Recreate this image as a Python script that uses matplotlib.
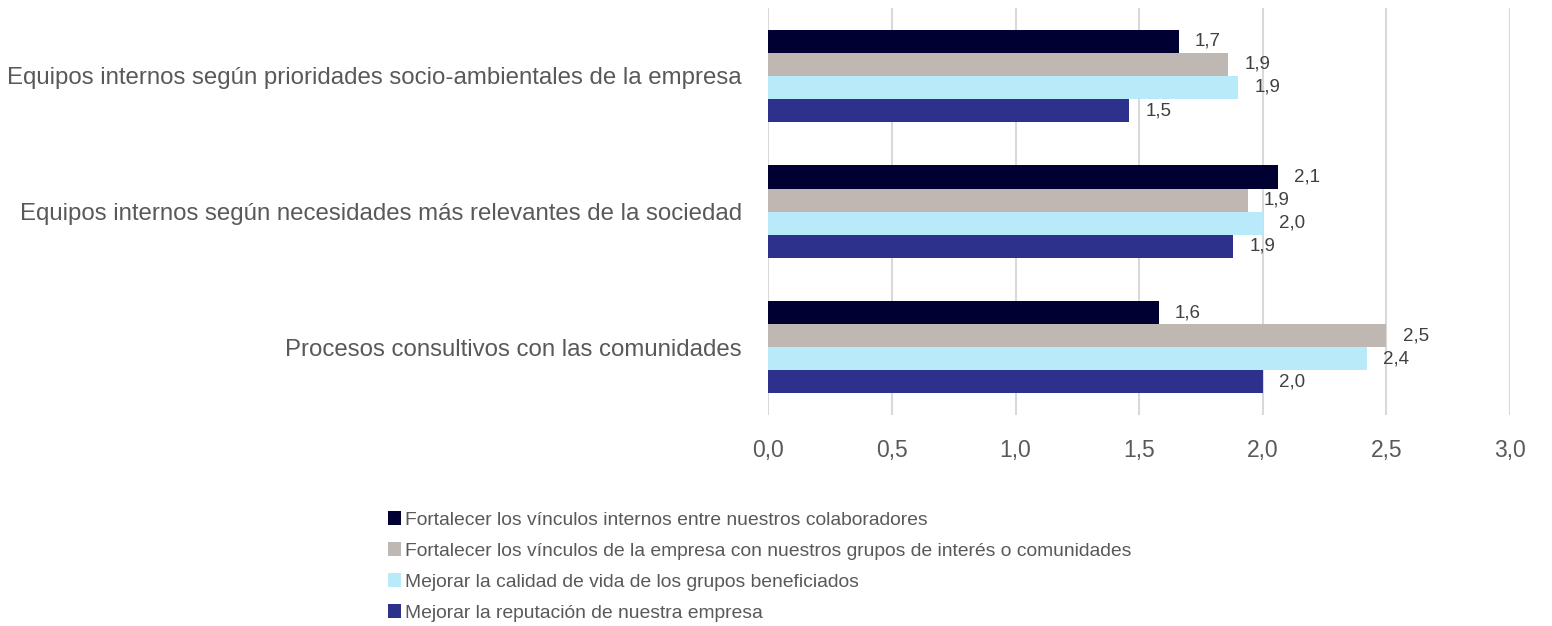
import numpy as np
import matplotlib.pyplot as plt
from matplotlib.patches import Patch

plt.rcParams['font.family'] = ['Liberation Sans', 'DejaVu Sans']

categories = [
    "Equipos internos según prioridades socio-ambientales de la empresa",
    "Equipos internos según necesidades más relevantes de la sociedad",
    "Procesos consultivos con las comunidades",
]
series_names = [
    "Fortalecer los vínculos internos entre nuestros colaboradores",
    "Fortalecer los vínculos de la empresa con nuestros grupos de interés o comunidades",
    "Mejorar la calidad de vida de los grupos beneficiados",
    "Mejorar la reputación de nuestra empresa",
]
vinculos_internos = [1.66, 2.06, 1.58]
vinculos_empresa = [1.86, 1.94, 2.50]
calidad_vida = [1.90, 2.00, 2.42]
reputacion = [1.46, 1.88, 2.00]
series = [vinculos_internos, vinculos_empresa, calidad_vida, reputacion]
colors = ["#000033", "#BFB8B2", "#B8EAFA", "#2E318C"]
xticks = [0.0, 0.5, 1.0, 1.5, 2.0, 2.5, 3.0]

fig = plt.figure(figsize=(15.52, 6.26), dpi=100)
ax = fig.add_axes([0.495, 0.337, 0.478, 0.650])

h = 0.17
y = np.arange(len(categories))
for i, (vals, c) in enumerate(zip(series, colors)):
    pos = y - 1.5 * h + i * h
    ax.barh(pos, vals, height=h, color=c, zorder=3)
    for p, v in zip(pos, vals):
        ax.text(v + 0.065, p, f"{v:.1f}".replace(".", ","), va="center", ha="left",
                fontsize=13.5, color="#404040", zorder=4)

ax.set_ylim(2.5, -0.5)
ax.set_xlim(0, 3.0)
ax.set_yticks(y)
ax.set_yticklabels(categories, fontsize=17.3, color="#595959")
ax.set_xticks(xticks)
ax.set_xticklabels([f"{t:.1f}".replace(".", ",") for t in xticks], fontsize=16.5, color="#595959")
ax.tick_params(axis="both", length=0)
ax.tick_params(axis="y", pad=19)
ax.tick_params(axis="x", pad=17)
ax.grid(axis="x", color="#D9D9D9", linewidth=1.5, zorder=0)
for s in ax.spines.values():
    s.set_visible(False)

handles = [Patch(facecolor=c, label=n) for c, n in zip(colors, series_names)]
fig.legend(handles=handles, loc="upper left", bbox_to_anchor=(0.245, 0.196),
           frameon=False, fontsize=13.9, handlelength=0.7, handleheight=0.7,
           handletextpad=0.2, labelspacing=0.7, borderaxespad=0,
           labelcolor="#595959")

fig.savefig("out.png", dpi=100)
